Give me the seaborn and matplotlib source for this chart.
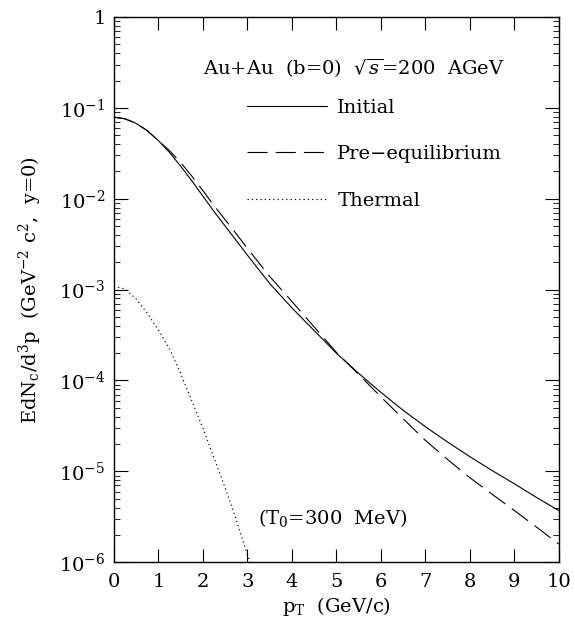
import matplotlib
matplotlib.use("Agg")
import matplotlib.pyplot as plt
import numpy as np
import pandas as pd
import seaborn as sns
from matplotlib.ticker import LogLocator, NullLocator, NullFormatter

# Transverse momentum grid (GeV/c)
pt = [0.0, 0.25, 0.5, 0.75, 1.0, 1.25, 1.5, 1.75, 2.0, 2.25, 2.5, 2.75, 3.0,
      3.5, 4.0, 4.5, 5.0, 5.5, 6.0, 6.5, 7.0, 7.5, 8.0, 8.5, 9.0, 9.5, 10.0]

# Charm yields EdN/d^3p (GeV^-2 c^2) at y=0
initial_yield = [7.9e-2, 7.59e-2, 6.76e-2, 5.62e-2, 4.37e-2, 3.24e-2, 2.29e-2,
                 1.58e-2, 1.07e-2, 7.24e-3, 5.01e-3, 3.47e-3, 2.40e-3,
                 1.17e-3, 6.3e-4, 3.55e-4, 2.0e-4, 1.20e-4, 7.4e-5, 4.7e-5,
                 3.1e-5, 2.1e-5, 1.45e-5, 1.02e-5, 7.3e-6, 5.15e-6, 3.7e-6]
preeq_yield = [7.9e-2, 7.59e-2, 6.76e-2, 5.62e-2, 4.37e-2, 3.39e-2, 2.51e-2,
               1.78e-2, 1.23e-2, 8.41e-3, 5.89e-3, 4.12e-3, 2.85e-3,
               1.40e-3, 7.41e-4, 3.89e-4, 2.04e-4, 1.17e-4, 6.6e-5, 3.8e-5,
               2.19e-5, 1.35e-5, 8.5e-6, 5.6e-6, 3.7e-6, 2.43e-6, 1.58e-6]

pt_thermal = [0.0, 0.25, 0.5, 0.75, 1.0, 1.25, 1.5, 1.75, 2.0, 2.25, 2.5,
              2.75, 3.0, 3.06]
thermal_yield = [1.08e-3, 1.02e-3, 7.9e-4, 5.5e-4, 3.6e-4, 2.24e-4, 1.20e-4,
                 6.0e-5, 3.0e-5, 1.41e-5, 6.6e-6, 2.95e-6, 1.20e-6, 1.0e-6]

series_names = ["Initial", "Pre\u2212equilibrium", "Thermal"]

x_ticks = [0, 1, 2, 3, 4, 5, 6, 7, 8, 9, 10]
y_ticks = [1e-6, 1e-5, 1e-4, 1e-3, 1e-2, 1e-1, 1.0]
y_tick_labels = [r"$10^{-6}$", r"$10^{-5}$", r"$10^{-4}$", r"$10^{-3}$",
                 r"$10^{-2}$", r"$10^{-1}$", "1"]

sns.set_style("ticks")
plt.rcParams.update({
    "font.family": ["DejaVu Serif"],
    "mathtext.fontset": "dejavuserif",
    "axes.formatter.use_mathtext": True,
    "lines.scale_dashes": False,
    "text.color": "black",
    "axes.labelcolor": "black",
    "xtick.color": "black",
    "ytick.color": "black",
    "axes.edgecolor": "black",
})

FS = 14

df = pd.concat([
    pd.DataFrame({"pt": pt, "yield": initial_yield, "source": series_names[0]}),
    pd.DataFrame({"pt": pt, "yield": preeq_yield, "source": series_names[1]}),
    pd.DataFrame({"pt": pt_thermal, "yield": thermal_yield, "source": series_names[2]}),
], ignore_index=True)

line_styles = {
    series_names[0]: "-",
    series_names[1]: (0, (14.5, 5.8)),
    series_names[2]: (0, (0.9, 2.2)),
}

fig = plt.figure(figsize=(5.75, 6.31), dpi=100)
ax = fig.add_axes([0.198, 0.109, 0.774, 0.864])

for name in series_names:
    sub = df[df["source"] == name]
    sns.lineplot(data=sub, x="pt", y="yield", ax=ax, color="black",
                 linewidth=0.8, linestyle=line_styles[name], label=name,
                 errorbar=None, sort=False)

ax.set_yscale("log")
ax.set_xlim(0, 10)
ax.set_ylim(1e-6, 1.0)

ax.set_xticks(x_ticks)
ax.set_xticklabels([str(t) for t in x_ticks])
ax.xaxis.set_minor_locator(NullLocator())
ax.set_yticks(y_ticks)
ax.set_yticklabels(y_tick_labels)
ax.yaxis.set_minor_locator(LogLocator(base=10, subs=np.arange(2, 10)))
ax.yaxis.set_minor_formatter(NullFormatter())

ax.tick_params(axis="both", which="both", direction="in", top=True,
               right=True, colors="black", labelsize=FS)
ax.tick_params(axis="x", which="major", length=9.5, width=0.8, pad=8)
ax.tick_params(axis="y", which="major", length=10, width=0.8, pad=6)
ax.tick_params(axis="y", which="minor", length=4.3, width=0.6)
for sp in ax.spines.values():
    sp.set_linewidth(1.0)
    sp.set_color("black")

ax.set_xlabel(r"p$_\mathrm{T}$  (GeV/c)", fontsize=FS, labelpad=3)
ax.set_ylabel(r"EdN$_\mathrm{c}$/d$^3$p  (GeV$^{-2}$ c$^2$,  y=0)",
              fontsize=FS, labelpad=11)

ax.legend(loc="upper left", bbox_to_anchor=(0.299, 0.85), frameon=False,
          fontsize=FS, handlelength=4.1, handletextpad=0.55,
          labelspacing=1.46, borderpad=0, borderaxespad=0)

ax.text(0.2, 0.906, r"Au+Au  (b=0)  $\sqrt{s}$=200  AGeV",
        transform=ax.transAxes, fontsize=FS, ha="left", va="center")
ax.text(0.324, 0.081, r"(T$_0$=300  MeV)", transform=ax.transAxes,
        fontsize=FS, ha="left", va="center")

fig.savefig("out.png", dpi=100)
